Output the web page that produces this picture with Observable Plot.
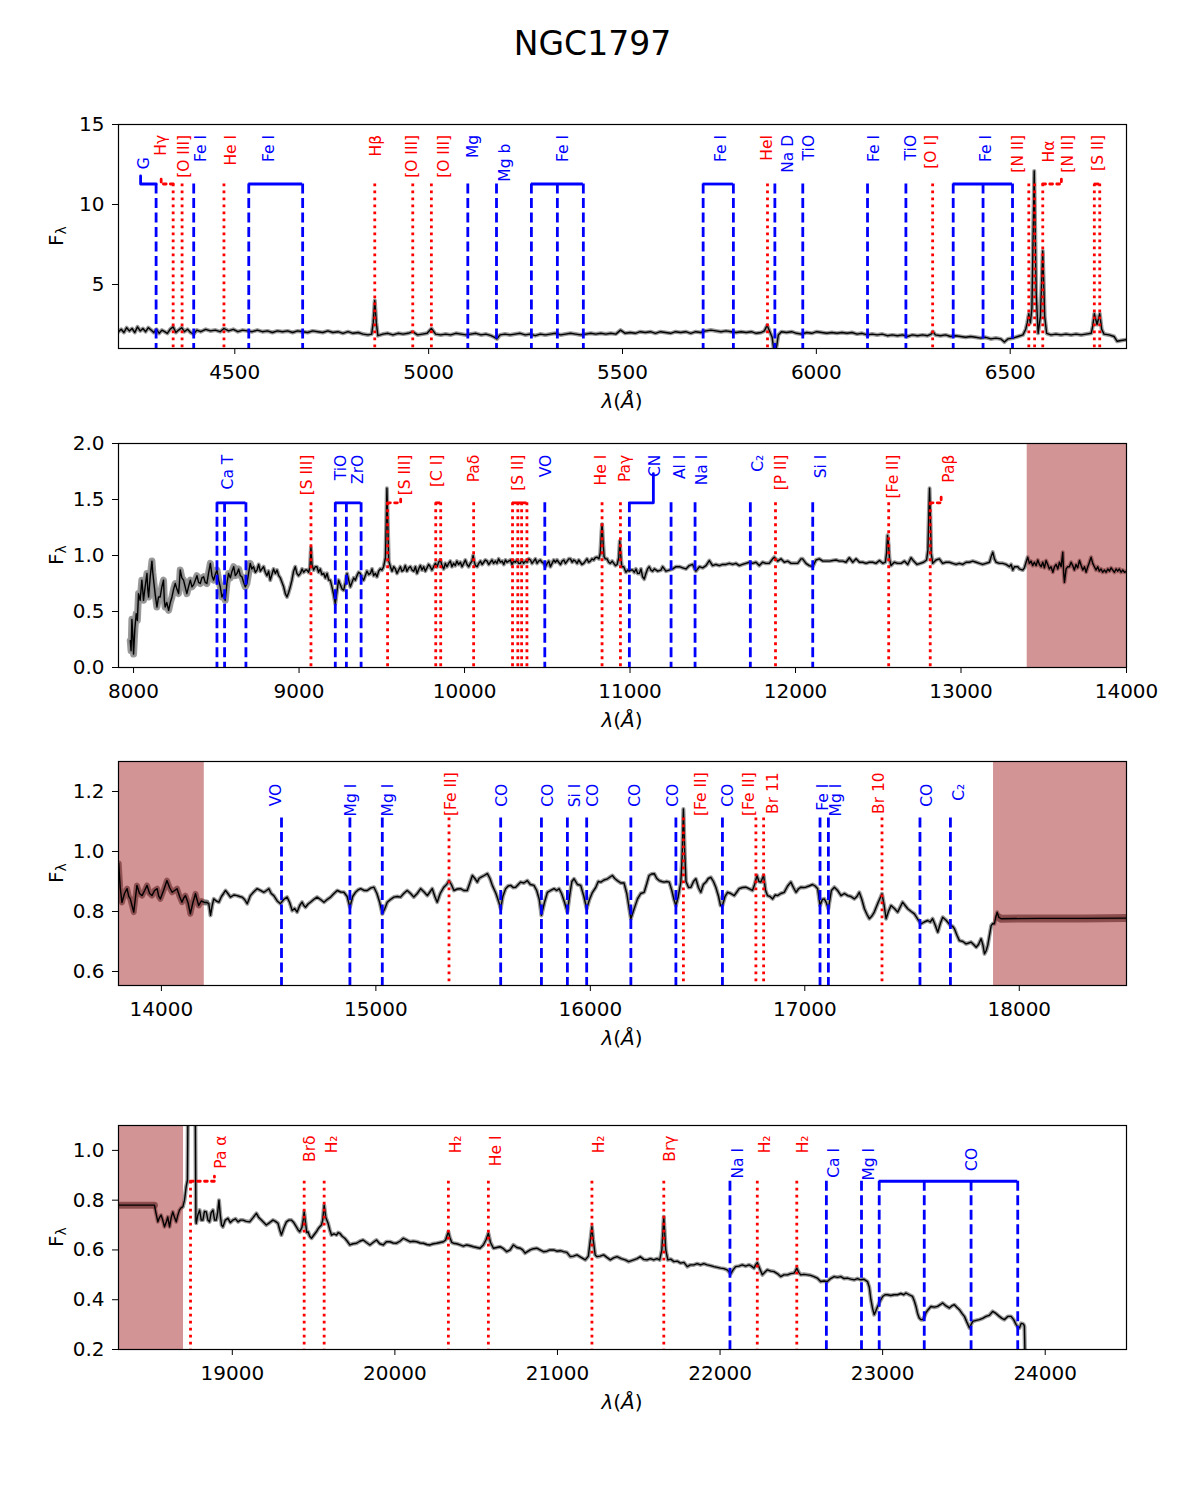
<!DOCTYPE html>
<html>
<head>
<meta charset="utf-8">
<script src="https://cdn.jsdelivr.net/npm/d3@7"></script>
<script src="https://cdn.jsdelivr.net/npm/@observablehq/plot@0.6"></script>
<style>
  body { margin: 0; background: #fff; font-family: "DejaVu Sans", sans-serif; }
  #chart { position: relative; width: 1185px; height: 1500px; background: #fff; }
  .panel { position: absolute; left: 0; }
</style>
</head>
<body>
<div id="chart"></div>
<script>
// ---------- Spectrum of NGC1797: wavelength (Å), flux ----------
const spec1 = [[4200,2.05],[4207,2.2],[4214,2.0],[4221,2.3],[4228,2.1],[4235,2.25],[4242,2.0],[4249,2.35],[4256,2.1],[4263,2.25],[4270,2.05],[4277,2.3],[4284,2.15],[4291,2.0],[4298,2.2],[4305,1.95],[4312,2.15],[4319,2.05],[4326,1.95],[4333,2.2],[4341,2.35],[4348,2.0],[4355,2.15],[4363,2.3],[4370,2.05],[4378,2.2],[4386,2.0],[4394,1.9],[4402,2.15],[4412,2.05],[4425,2.2],[4437,2.1],[4450,2.15],[4462,2.05],[4472,2.25],[4484,2.1],[4496,2.2],[4508,2.05],[4520,2.15],[4532,2.1],[4545,2.05],[4558,2.15],[4571,2.05],[4584,2.1],[4597,2.0],[4610,2.1],[4623,2.05],[4636,2.1],[4649,2.0],[4662,2.1],[4675,2.05],[4688,2.0],[4701,2.1],[4714,2.05],[4727,2.0],[4740,2.1],[4753,2.0],[4766,2.05],[4779,1.95],[4792,2.05],[4805,1.95],[4818,2.0],[4831,1.9],[4844,1.85],[4853,1.9],[4857,2.6],[4861,4.0],[4865,2.6],[4869,1.8],[4882,1.9],[4895,1.95],[4908,1.85],[4921,1.95],[4934,1.9],[4947,1.95],[4959,2.05],[4971,1.85],[4984,1.9],[4996,1.95],[5007,2.25],[5018,1.9],[5031,1.85],[5044,1.9],[5057,1.85],[5070,1.95],[5083,1.9],[5096,1.85],[5109,1.9],[5122,1.95],[5135,1.85],[5148,1.9],[5161,1.8],[5170,1.7],[5176,1.6],[5184,1.85],[5197,1.9],[5210,1.85],[5223,1.9],[5236,1.95],[5249,1.85],[5262,1.9],[5275,1.8],[5288,1.9],[5301,1.85],[5314,1.9],[5327,1.95],[5340,1.85],[5353,1.9],[5366,1.95],[5379,1.9],[5392,1.85],[5405,1.9],[5418,1.95],[5431,1.9],[5444,1.95],[5457,1.9],[5470,1.95],[5483,1.9],[5495,2.15],[5507,1.95],[5520,2.0],[5533,1.95],[5546,2.05],[5559,2.0],[5572,2.05],[5585,1.95],[5598,2.05],[5611,2.0],[5624,1.95],[5637,2.05],[5650,2.0],[5663,2.05],[5676,1.95],[5689,2.05],[5702,2.0],[5715,2.1],[5728,2.15],[5741,2.1],[5754,2.05],[5767,2.1],[5780,2.05],[5793,2.0],[5806,2.05],[5819,2.0],[5832,2.05],[5845,1.95],[5858,2.0],[5866,2.1],[5873,2.45],[5880,2.05],[5886,1.7],[5890,1.0],[5894,0.8],[5898,1.2],[5902,1.85],[5910,2.05],[5923,2.0],[5936,2.05],[5949,1.95],[5962,1.9],[5975,2.0],[5988,1.95],[6001,2.05],[6014,2.0],[6027,1.95],[6040,2.0],[6053,1.95],[6066,2.0],[6079,1.95],[6092,2.0],[6105,1.9],[6118,1.95],[6131,1.85],[6144,1.9],[6157,1.85],[6170,1.9],[6183,1.8],[6196,1.85],[6209,1.8],[6222,1.85],[6235,1.75],[6248,1.85],[6261,1.8],[6274,1.85],[6287,1.8],[6296,1.9],[6301,2.05],[6307,1.85],[6320,1.8],[6333,1.85],[6346,1.75],[6359,1.8],[6372,1.75],[6385,1.7],[6398,1.75],[6411,1.7],[6424,1.65],[6437,1.7],[6450,1.6],[6463,1.65],[6476,1.6],[6485,1.4],[6494,1.6],[6507,1.65],[6520,1.75],[6533,1.85],[6540,2.2],[6544,2.6],[6548,3.17],[6552,2.6],[6556,3.5],[6562,12.1],[6567,4.5],[6572,1.95],[6578,3.0],[6584,7.1],[6589,3.0],[6594,1.95],[6605,1.85],[6618,1.9],[6631,1.85],[6644,1.9],[6657,1.85],[6670,1.9],[6683,1.85],[6696,1.9],[6709,1.95],[6713,2.4],[6717,3.17],[6724,2.5],[6731,3.17],[6736,2.2],[6742,1.9],[6755,1.85],[6768,1.75],[6776,1.45],[6786,1.5],[6800,1.55]];

const spec2 = [[7980,0.24],[7985,0.15],[7990,0.43],[7995,0.3],[8000,0.12],[8008,0.35],[8016,0.48],[8023,0.42],[8030,0.66],[8040,0.6],[8050,0.78],[8055,0.7],[8060,0.6],[8070,0.72],[8081,0.84],[8086,0.7],[8091,0.63],[8100,0.8],[8111,0.95],[8116,0.85],[8121,0.78],[8131,0.65],[8141,0.54],[8151,0.63],[8161,0.63],[8171,0.72],[8181,0.78],[8186,0.6],[8191,0.54],[8201,0.58],[8212,0.51],[8222,0.58],[8232,0.63],[8242,0.7],[8252,0.75],[8262,0.7],[8272,0.66],[8277,0.75],[8282,0.87],[8292,0.8],[8302,0.78],[8312,0.72],[8322,0.66],[8332,0.72],[8343,0.78],[8353,0.72],[8363,0.74],[8373,0.78],[8383,0.82],[8393,0.76],[8403,0.75],[8413,0.8],[8423,0.81],[8433,0.76],[8443,0.75],[8453,0.84],[8464,0.93],[8474,0.82],[8484,0.78],[8494,0.83],[8504,0.87],[8514,0.78],[8524,0.72],[8534,0.63],[8544,0.66],[8554,0.6],[8564,0.75],[8574,0.84],[8585,0.8],[8595,0.86],[8605,0.9],[8615,0.82],[8625,0.84],[8635,0.88],[8645,0.82],[8655,0.81],[8665,0.76],[8675,0.72],[8685,0.75],[8695,0.84],[8705,0.93],[8715,0.88],[8725,0.9],[8736,0.85],[8746,0.87],[8756,0.92],[8766,0.86],[8776,0.88],[8786,0.9],[8796,0.85],[8806,0.82],[8816,0.86],[8826,0.78],[8836,0.83],[8846,0.88],[8857,0.84],[8867,0.87],[8877,0.82],[8887,0.8],[8897,0.76],[8907,0.72],[8917,0.66],[8927,0.63],[8937,0.67],[8947,0.72],[8957,0.78],[8967,0.86],[8977,0.9],[8987,0.84],[8997,0.82],[9008,0.84],[9018,0.88],[9028,0.85],[9038,0.87],[9048,0.87],[9058,0.85],[9066,0.9],[9072,1.07],[9078,0.92],[9088,0.87],[9098,0.9],[9108,0.9],[9118,0.85],[9128,0.88],[9138,0.83],[9149,0.84],[9159,0.8],[9169,0.84],[9179,0.78],[9189,0.78],[9199,0.72],[9209,0.65],[9219,0.57],[9229,0.68],[9239,0.78],[9249,0.74],[9260,0.7],[9270,0.69],[9280,0.76],[9290,0.84],[9300,0.78],[9310,0.72],[9320,0.76],[9330,0.8],[9340,0.78],[9350,0.82],[9360,0.85],[9370,0.84],[9380,0.8],[9390,0.78],[9400,0.82],[9410,0.86],[9421,0.83],[9431,0.84],[9441,0.88],[9451,0.82],[9461,0.84],[9471,0.81],[9481,0.86],[9491,0.88],[9501,0.87],[9511,0.9],[9522,0.98],[9527,1.3],[9531,1.6],[9536,1.3],[9542,0.95],[9552,0.9],[9562,0.86],[9572,0.9],[9582,0.88],[9592,0.84],[9602,0.87],[9612,0.9],[9622,0.86],[9632,0.87],[9642,0.91],[9652,0.86],[9663,0.89],[9673,0.9],[9683,0.87],[9693,0.86],[9703,0.9],[9713,0.84],[9723,0.88],[9733,0.91],[9743,0.87],[9753,0.9],[9763,0.86],[9773,0.89],[9783,0.92],[9793,0.9],[9803,0.87],[9813,0.9],[9824,0.93],[9834,0.9],[9844,0.94],[9854,0.96],[9864,0.91],[9874,0.88],[9884,0.93],[9894,0.9],[9904,0.93],[9914,0.95],[9924,0.9],[9934,0.93],[9944,0.91],[9954,0.95],[9964,0.92],[9975,0.94],[9985,0.9],[9995,0.93],[10005,0.96],[10015,0.92],[10025,0.9],[10035,0.93],[10045,0.95],[10052,1.0],[10058,0.95],[10066,0.91],[10076,0.9],[10086,0.93],[10096,0.95],[10106,0.92],[10116,0.94],[10126,0.96],[10136,0.95],[10146,0.92],[10156,0.94],[10166,0.96],[10176,0.93],[10186,0.95],[10196,0.93],[10206,0.97],[10217,0.94],[10227,0.95],[10237,0.92],[10247,0.96],[10257,0.94],[10267,0.95],[10277,0.96],[10287,0.92],[10297,0.95],[10307,0.94],[10317,0.96],[10327,0.93],[10337,0.93],[10347,0.96],[10357,0.93],[10368,0.95],[10378,0.94],[10388,0.97],[10398,0.96],[10408,0.93],[10418,0.95],[10428,0.97],[10438,0.93],[10448,0.95],[10458,0.96],[10468,0.94],[10479,0.93],[10489,0.9],[10499,0.93],[10509,0.95],[10519,0.9],[10529,0.93],[10539,0.96],[10549,0.94],[10559,0.96],[10569,0.94],[10580,0.92],[10590,0.95],[10600,0.96],[10610,0.93],[10620,0.95],[10630,0.97],[10640,0.97],[10650,0.94],[10660,0.96],[10670,0.95],[10680,0.93],[10690,0.96],[10700,0.94],[10710,0.92],[10720,0.93],[10730,0.95],[10740,0.97],[10750,0.94],[10760,0.95],[10770,0.97],[10780,0.96],[10790,0.98],[10801,0.985],[10812,0.97],[10820,1.02],[10827,1.2],[10831,1.28],[10836,1.15],[10843,0.99],[10851,0.97],[10861,0.97],[10871,0.94],[10881,0.93],[10892,0.95],[10902,0.93],[10912,0.91],[10922,0.92],[10932,0.98],[10938,1.13],[10943,1.02],[10950,0.9],[10962,0.9],[10975,0.85],[10985,0.87],[10995,0.86],[11005,0.87],[11016,0.87],[11026,0.85],[11036,0.88],[11046,0.84],[11056,0.84],[11066,0.88],[11076,0.81],[11086,0.79],[11096,0.84],[11106,0.88],[11116,0.9],[11126,0.87],[11137,0.86],[11147,0.88],[11167,0.86],[11187,0.87],[11197,0.9],[11217,0.86],[11237,0.87],[11258,0.88],[11278,0.9],[11298,0.9],[11318,0.89],[11338,0.88],[11358,0.91],[11378,0.92],[11398,0.86],[11419,0.9],[11439,0.89],[11459,0.91],[11479,0.955],[11499,0.91],[11519,0.92],[11540,0.91],[11560,0.92],[11580,0.92],[11600,0.93],[11620,0.92],[11640,0.93],[11660,0.91],[11680,0.92],[11700,0.93],[11721,0.94],[11741,0.93],[11761,0.94],[11781,0.91],[11801,0.94],[11821,0.93],[11841,0.93],[11862,0.97],[11872,0.985],[11892,0.95],[11912,0.97],[11932,0.94],[11953,0.95],[11973,0.93],[11993,0.93],[12013,0.93],[12033,0.97],[12043,0.97],[12063,0.93],[12083,0.91],[12104,0.9],[12124,0.96],[12144,0.97],[12165,0.95],[12185,0.95],[12205,0.95],[12225,0.955],[12245,0.96],[12265,0.95],[12285,0.95],[12305,0.94],[12325,0.98],[12346,0.94],[12366,0.97],[12386,0.94],[12406,0.94],[12426,0.93],[12446,0.94],[12466,0.94],[12486,0.93],[12507,0.955],[12527,0.93],[12543,0.94],[12550,1.02],[12556,1.18],[12562,1.1],[12568,0.97],[12577,0.91],[12597,0.94],[12617,0.93],[12638,0.93],[12658,0.95],[12678,0.92],[12698,0.98],[12714,0.95],[12734,0.92],[12754,0.93],[12774,0.94],[12792,0.96],[12800,1.05],[12806,1.4],[12810,1.6],[12814,1.4],[12820,1.02],[12829,0.93],[12849,0.96],[12869,0.97],[12889,0.93],[12909,0.94],[12929,0.94],[12950,0.93],[12970,0.92],[12990,0.93],[13010,0.92],[13031,0.94],[13051,0.94],[13071,0.95],[13091,0.94],[13111,0.93],[13131,0.92],[13151,0.93],[13172,0.94],[13182,0.99],[13192,1.03],[13202,0.97],[13212,0.94],[13232,0.93],[13252,0.93],[13272,0.92],[13293,0.9],[13303,0.92],[13313,0.87],[13323,0.9],[13343,0.9],[13353,0.88],[13373,0.87],[13383,0.89],[13393,0.94],[13403,0.985],[13413,0.93],[13423,0.95],[13433,0.91],[13443,0.94],[13454,0.91],[13464,0.96],[13474,0.92],[13484,0.9],[13494,0.94],[13504,0.89],[13514,0.955],[13524,0.92],[13534,0.88],[13544,0.9],[13555,0.85],[13565,0.9],[13575,0.92],[13585,0.88],[13595,0.94],[13605,0.9],[13615,1.03],[13620,0.85],[13625,0.76],[13635,0.88],[13645,0.9],[13655,0.9],[13665,0.94],[13675,0.91],[13685,0.87],[13695,0.92],[13705,0.89],[13716,0.955],[13726,0.91],[13736,0.87],[13746,0.9],[13756,0.85],[13766,0.9],[13776,0.94],[13786,0.985],[13796,0.93],[13806,0.9],[13816,0.87],[13826,0.9],[13836,0.86],[13846,0.88],[13856,0.85],[13866,0.87],[13877,0.85],[13887,0.88],[13897,0.86],[13907,0.89],[13917,0.87],[13927,0.85],[13937,0.88],[13947,0.86],[13957,0.88],[13967,0.85],[13977,0.87],[13988,0.85],[14000,0.86]];

const spec3 = [[13801,0.96],[13808,0.88],[13816,0.83],[13828,0.86],[13840,0.876],[13848,0.85],[13855,0.842],[13863,0.82],[13871,0.798],[13878,0.84],[13886,0.887],[13898,0.86],[13910,0.853],[13922,0.87],[13933,0.887],[13945,0.86],[13956,0.853],[13968,0.87],[13980,0.876],[13988,0.85],[13995,0.842],[14010,0.87],[14026,0.903],[14038,0.88],[14050,0.864],[14062,0.87],[14073,0.876],[14085,0.85],[14096,0.831],[14104,0.845],[14112,0.853],[14124,0.83],[14135,0.792],[14147,0.83],[14159,0.859],[14166,0.84],[14174,0.82],[14186,0.835],[14198,0.831],[14210,0.83],[14221,0.826],[14229,0.787],[14237,0.82],[14244,0.842],[14256,0.835],[14268,0.831],[14280,0.85],[14290,0.86],[14299,0.87],[14310,0.86],[14322,0.848],[14338,0.855],[14353,0.853],[14365,0.85],[14376,0.848],[14388,0.84],[14400,0.826],[14408,0.84],[14415,0.853],[14430,0.865],[14446,0.876],[14462,0.87],[14478,0.864],[14490,0.87],[14501,0.876],[14512,0.86],[14524,0.853],[14540,0.835],[14555,0.826],[14570,0.84],[14586,0.848],[14598,0.83],[14610,0.803],[14621,0.81],[14633,0.798],[14645,0.82],[14656,0.831],[14664,0.82],[14672,0.814],[14684,0.825],[14695,0.831],[14710,0.84],[14726,0.848],[14742,0.84],[14758,0.831],[14773,0.84],[14789,0.848],[14805,0.86],[14820,0.87],[14836,0.865],[14851,0.864],[14866,0.85],[14879,0.814],[14892,0.85],[14905,0.864],[14917,0.872],[14929,0.876],[14945,0.87],[14960,0.87],[14975,0.878],[14991,0.881],[15005,0.86],[15018,0.83],[15030,0.792],[15042,0.81],[15053,0.831],[15068,0.84],[15084,0.848],[15100,0.85],[15115,0.848],[15130,0.86],[15146,0.87],[15162,0.86],[15177,0.848],[15193,0.86],[15209,0.876],[15225,0.865],[15240,0.853],[15252,0.865],[15263,0.876],[15275,0.85],[15286,0.831],[15300,0.86],[15317,0.881],[15330,0.89],[15341,0.903],[15352,0.89],[15364,0.87],[15380,0.875],[15395,0.876],[15410,0.87],[15426,0.87],[15438,0.895],[15450,0.92],[15462,0.91],[15473,0.898],[15481,0.91],[15489,0.914],[15505,0.92],[15520,0.926],[15532,0.91],[15543,0.887],[15560,0.86],[15574,0.83],[15582,0.809],[15592,0.85],[15605,0.876],[15617,0.885],[15629,0.887],[15640,0.88],[15652,0.881],[15664,0.89],[15675,0.898],[15690,0.895],[15706,0.903],[15720,0.89],[15737,0.887],[15750,0.87],[15762,0.84],[15772,0.787],[15786,0.83],[15800,0.864],[15815,0.87],[15831,0.876],[15843,0.87],[15854,0.876],[15866,0.86],[15880,0.83],[15893,0.798],[15905,0.86],[15914,0.9],[15924,0.909],[15940,0.89],[15955,0.887],[15970,0.85],[15983,0.809],[15996,0.84],[16010,0.864],[16025,0.88],[16037,0.9],[16049,0.898],[16064,0.905],[16080,0.909],[16092,0.915],[16103,0.92],[16114,0.91],[16126,0.903],[16142,0.895],[16157,0.895],[16170,0.86],[16181,0.81],[16189,0.776],[16200,0.8],[16220,0.842],[16235,0.86],[16251,0.864],[16262,0.89],[16274,0.92],[16286,0.925],[16298,0.926],[16310,0.91],[16321,0.903],[16333,0.9],[16344,0.898],[16356,0.9],[16368,0.898],[16380,0.87],[16390,0.84],[16399,0.82],[16410,0.85],[16422,0.898],[16428,0.98],[16434,1.142],[16440,1.0],[16446,0.9],[16458,0.88],[16469,0.881],[16481,0.9],[16492,0.909],[16504,0.88],[16515,0.864],[16527,0.89],[16539,0.898],[16550,0.91],[16562,0.914],[16574,0.9],[16585,0.881],[16598,0.85],[16607,0.82],[16616,0.82],[16628,0.85],[16640,0.864],[16655,0.86],[16671,0.853],[16683,0.865],[16694,0.876],[16710,0.88],[16725,0.881],[16740,0.876],[16756,0.87],[16766,0.89],[16777,0.92],[16786,0.9],[16795,0.898],[16802,0.91],[16808,0.92],[16817,0.87],[16826,0.853],[16838,0.85],[16850,0.842],[16862,0.855],[16873,0.853],[16888,0.86],[16904,0.864],[16920,0.885],[16935,0.898],[16947,0.88],[16959,0.864],[16970,0.875],[16982,0.881],[16994,0.88],[17005,0.881],[17020,0.885],[17036,0.89],[17048,0.885],[17060,0.876],[17071,0.82],[17082,0.84],[17091,0.842],[17100,0.83],[17110,0.809],[17124,0.87],[17138,0.881],[17153,0.87],[17169,0.853],[17185,0.86],[17200,0.853],[17215,0.85],[17231,0.842],[17243,0.85],[17254,0.864],[17266,0.84],[17278,0.809],[17290,0.79],[17301,0.776],[17313,0.785],[17324,0.798],[17342,0.83],[17360,0.859],[17370,0.82],[17379,0.776],[17390,0.8],[17402,0.82],[17418,0.81],[17433,0.798],[17445,0.815],[17456,0.831],[17468,0.82],[17480,0.809],[17496,0.8],[17511,0.792],[17526,0.775],[17542,0.759],[17557,0.765],[17573,0.77],[17585,0.765],[17596,0.776],[17608,0.755],[17620,0.731],[17632,0.76],[17643,0.781],[17660,0.77],[17679,0.753],[17690,0.75],[17698,0.742],[17710,0.72],[17721,0.703],[17737,0.7],[17752,0.692],[17764,0.695],[17775,0.698],[17787,0.69],[17799,0.681],[17810,0.69],[17822,0.709],[17830,0.69],[17838,0.659],[17846,0.67],[17853,0.687],[17861,0.72],[17869,0.753],[17877,0.76],[17884,0.759],[17890,0.78],[17897,0.798],[17905,0.78],[17915,0.776],[18100,0.777],[18300,0.777],[18500,0.778]];

const spec4 = [[18295,0.78],[18521,0.78],[18530,0.75],[18542,0.713],[18552,0.73],[18562,0.74],[18572,0.72],[18583,0.693],[18593,0.71],[18603,0.733],[18609,0.71],[18614,0.693],[18624,0.73],[18634,0.753],[18645,0.73],[18655,0.713],[18665,0.74],[18675,0.76],[18686,0.77],[18696,0.773],[18706,0.8],[18716,0.853],[18724,0.88],[18730,1.4],[18736,1.6],[18766,1.6],[18772,1.2],[18776,0.72],[18778,0.707],[18788,0.74],[18799,0.76],[18809,0.72],[18819,0.72],[18829,0.755],[18840,0.753],[18850,0.72],[18860,0.713],[18870,0.75],[18881,0.76],[18891,0.72],[18901,0.72],[18910,0.75],[18918,0.8],[18926,0.74],[18934,0.7],[18942,0.693],[18957,0.72],[18973,0.727],[18988,0.71],[19004,0.72],[19020,0.725],[19035,0.713],[19050,0.72],[19066,0.72],[19086,0.715],[19107,0.713],[19128,0.73],[19148,0.747],[19163,0.73],[19179,0.72],[19194,0.71],[19209,0.7],[19230,0.71],[19250,0.72],[19265,0.715],[19281,0.707],[19292,0.68],[19302,0.66],[19318,0.69],[19333,0.713],[19348,0.72],[19363,0.72],[19378,0.71],[19394,0.693],[19405,0.68],[19415,0.673],[19428,0.69],[19436,0.72],[19442,0.753],[19450,0.71],[19458,0.67],[19466,0.673],[19476,0.655],[19487,0.647],[19502,0.66],[19517,0.673],[19528,0.685],[19538,0.693],[19548,0.7],[19556,0.72],[19565,0.78],[19575,0.73],[19589,0.707],[19600,0.68],[19610,0.66],[19625,0.665],[19641,0.66],[19651,0.67],[19661,0.667],[19676,0.655],[19692,0.647],[19707,0.635],[19723,0.62],[19743,0.625],[19764,0.627],[19784,0.635],[19805,0.64],[19825,0.63],[19846,0.62],[19866,0.63],[19887,0.64],[19907,0.625],[19928,0.62],[19948,0.633],[19969,0.633],[19989,0.628],[20010,0.627],[20031,0.635],[20052,0.647],[20072,0.64],[20093,0.633],[20113,0.635],[20134,0.633],[20155,0.628],[20175,0.627],[20196,0.622],[20216,0.62],[20237,0.625],[20257,0.627],[20278,0.63],[20298,0.633],[20312,0.64],[20322,0.66],[20329,0.673],[20338,0.65],[20350,0.63],[20360,0.627],[20380,0.625],[20401,0.62],[20421,0.615],[20442,0.62],[20462,0.617],[20483,0.613],[20503,0.61],[20524,0.607],[20544,0.62],[20560,0.64],[20575,0.667],[20588,0.63],[20606,0.607],[20627,0.61],[20647,0.613],[20668,0.605],[20688,0.593],[20709,0.6],[20729,0.62],[20750,0.61],[20770,0.607],[20786,0.6],[20801,0.587],[20817,0.594],[20832,0.6],[20852,0.605],[20873,0.607],[20893,0.6],[20914,0.593],[20935,0.595],[20955,0.6],[20976,0.6],[20996,0.595],[21017,0.597],[21037,0.593],[21058,0.59],[21079,0.573],[21099,0.575],[21120,0.58],[21145,0.57],[21171,0.56],[21190,0.575],[21204,0.65],[21212,0.693],[21220,0.64],[21232,0.58],[21243,0.573],[21263,0.575],[21284,0.58],[21304,0.57],[21325,0.56],[21345,0.568],[21366,0.573],[21392,0.565],[21417,0.56],[21438,0.553],[21469,0.56],[21490,0.565],[21510,0.573],[21530,0.562],[21551,0.56],[21572,0.565],[21592,0.56],[21612,0.565],[21629,0.56],[21642,0.6],[21654,0.733],[21666,0.6],[21679,0.56],[21697,0.563],[21716,0.553],[21737,0.555],[21757,0.547],[21778,0.55],[21798,0.533],[21818,0.54],[21839,0.54],[21859,0.545],[21880,0.54],[21900,0.545],[21921,0.54],[21941,0.537],[21962,0.533],[21983,0.53],[22003,0.527],[22024,0.525],[22044,0.52],[22058,0.51],[22065,0.504],[22080,0.52],[22096,0.533],[22116,0.535],[22137,0.54],[22157,0.535],[22178,0.54],[22193,0.535],[22209,0.527],[22219,0.54],[22229,0.549],[22244,0.525],[22260,0.5],[22275,0.51],[22291,0.52],[22312,0.515],[22332,0.513],[22352,0.505],[22373,0.493],[22393,0.5],[22414,0.5],[22434,0.505],[22455,0.507],[22463,0.515],[22472,0.527],[22484,0.51],[22496,0.5],[22516,0.502],[22537,0.5],[22557,0.498],[22578,0.493],[22598,0.487],[22619,0.473],[22640,0.475],[22660,0.473],[22680,0.485],[22702,0.493],[22722,0.49],[22743,0.493],[22763,0.485],[22784,0.487],[22804,0.483],[22825,0.48],[22845,0.485],[22866,0.48],[22886,0.482],[22907,0.473],[22918,0.45],[22928,0.4],[22938,0.365],[22948,0.34],[22958,0.355],[22969,0.373],[22985,0.395],[23000,0.413],[23015,0.42],[23030,0.42],[23050,0.417],[23070,0.42],[23092,0.42],[23112,0.425],[23130,0.42],[23143,0.427],[23163,0.42],[23184,0.413],[23195,0.395],[23205,0.373],[23215,0.345],[23225,0.327],[23236,0.32],[23246,0.32],[23256,0.33],[23266,0.347],[23280,0.36],[23297,0.373],[23318,0.37],[23338,0.373],[23354,0.38],[23369,0.387],[23390,0.375],[23410,0.367],[23425,0.375],[23441,0.38],[23456,0.37],[23472,0.36],[23488,0.345],[23503,0.333],[23518,0.31],[23534,0.287],[23544,0.3],[23554,0.313],[23575,0.317],[23595,0.32],[23615,0.325],[23636,0.333],[23656,0.337],[23677,0.353],[23697,0.345],[23718,0.333],[23734,0.325],[23749,0.32],[23770,0.333],[23790,0.333],[23806,0.32],[23821,0.3],[23832,0.29],[23842,0.287],[23852,0.305],[23862,0.304],[23868,0.3],[23872,0.293],[23875,0.2],[23878,0.1]];

// ---------- Line identifications: [label, rest wavelengths (Å), type, label wavelength, extras] ----------
// type "abs" = absorption feature (blue dashed), "em" = emission line (red dotted)
const lines1 = [
  ["G",[4297],"abs",4264,{top:12.95,conn:4257,rise:0.5}],
  ["Hγ",[4341],"em",4310,{conn:4310,rise:0.55}],
  ["[O III]",[4364],"em",4368],
  ["Fe I",[4394],"abs",4411],
  ["He I",[4472],"em",4489],
  ["Fe I",[4536,4675],"abs",4588],
  ["Hβ",[4861],"em",4863],
  ["[O III]",[4959],"em",4958],
  ["[O III]",[5007],"em",5039],
  ["Mg",[5101],"abs",5115],
  ["Mg b",[5175],"abs",5196,{top:13.8}],
  ["Fe I",[5265,5332,5399],"abs",5345],
  ["Fe I",[5708,5786],"abs",5753],
  ["HeI",[5874],"em",5874],
  ["Na D",[5893],"abs",5927],
  ["TiO",[5965],"abs",5981],
  ["Fe I",[6132],"abs",6149],
  ["TiO",[6231],"abs",6244],
  ["[O I]",[6300],"em",6297],
  ["Fe I",[6353,6430,6506],"abs",6437],
  ["[N II]",[6548],"em",6519],
  ["Hα",[6563],"em",6601,{top:14.0}],
  ["[N II]",[6584],"em",6650,{conn:6632,rise:0.3}],
  ["[S II]",[6717,6731],"em",6727]
];
const lines2 = [
  ["Ca T",[8504,8550,8679],"abs",8568],
  ["[S III]",[9072],"em",9048],
  ["TiO\nZrO",[9219,9286,9375],"abs",9304],
  ["[S III]",[9535],"em",9643,{conn:9614,rise:0.05}],
  ["[C I]",[9826,9856],"em",9834],
  ["Paδ",[10055],"em",10056],
  ["[S II]",[10290,10322,10345,10377],"em",10322],
  ["VO",[10485],"abs",10489],
  ["He I",[10831],"em",10822],
  ["Paγ",[10942],"em",10972],
  ["CN",[10996],"abs",11147,{conn:11141,rise:0.26}],
  ["Al I",[11248],"abs",11298],
  ["Na I",[11393],"abs",11435],
  ["C₂",[11727],"abs",11772],
  ["[P II]",[11879],"em",11913],
  ["Si I",[12104],"abs",12155],
  ["[Fe II]",[12563],"em",12588],
  ["Paβ",[12814],"em",12926,{conn:12880,rise:0.05}]
];
const lines3 = [
  ["VO",[14560],"abs",14535],
  ["Mg I",[14879],"abs",14885],
  ["Mg I",[15030],"abs",15056],
  ["[Fe II]",[15341],"em",15349],
  ["CO",[15582],"abs",15585],
  ["CO",[15772],"abs",15803],
  ["Si I",[15893],"abs",15927],
  ["CO",[15983],"abs",16013],
  ["CO",[16189],"abs",16207],
  ["CO",[16399],"abs",16386],
  ["[Fe II]",[16434],"em",16515],
  ["CO",[16616],"abs",16643],
  ["[Fe II]",[16772],"em",16741],
  ["Br 11",[16808],"em",16853],
  ["Fe I",[17071],"abs",17083],
  ["Mg I",[17110],"abs",17145],
  ["Br 10",[17360],"em",17347],
  ["CO",[17537],"abs",17568],
  ["C₂",[17679],"abs",17716]
];
const lines4 = [
  ["Pa α",[18743],"em",18932,{conn:18890,rise:0.02}],
  ["Brδ",[19442],"em",19480],
  ["H₂",[19565],"em",19614],
  ["H₂",[20329],"em",20374],
  ["He I",[20575],"em",20620],
  ["H₂",[21212],"em",21257],
  ["Brγ",[21654],"em",21695],
  ["Na I",[22061],"abs",22106],
  ["H₂",[22229],"em",22274],
  ["H₂",[22472],"em",22511],
  ["Ca I",[22654],"abs",22702],
  ["Mg I",[22870],"abs",22917],
  ["CO",[22979,23256,23544,23831],"abs",23548]
];

// Masked (telluric) wavelength ranges
const mask2 = [[13400,14000]];
const mask3 = [[13800,14200],[17880,18500]];
const mask4 = [[18300,18700]];

// Axis ticks
const xt1 = [4500,5000,5500,6000,6500], yt1 = [5,10,15];
const xt2 = [8000,9000,10000,11000,12000,13000,14000], yt2 = [0,0.5,1,1.5,2];
const xt3 = [14000,15000,16000,17000,18000], yt3 = [0.6,0.8,1.0,1.2];
const xt4 = [19000,20000,21000,22000,23000,24000], yt4 = [0.2,0.4,0.6,0.8,1.0];

// ---------- layout ----------
const W = 1185, ML = 118, MR = 59, FH = 224, MT = 20, MB = 70;
const BLUE = "#0000ff", RED = "#ff0000";
const panels = [
  {spec: spec1, lines: lines1, masks: [], x: [4200,6800], y: [1,15], xt: xt1, yt: yt1, yf: d3.format("d"),
   frameTop: 124, top: 11.28, labAbs: 14.35, labEm: 14.35, bands: []},
  {spec: spec2, lines: lines2, masks: mask2, x: [7909,14000], y: [0,2], xt: xt2, yt: yt2, yf: d3.format(".1f"),
   frameTop: 443, top: 1.47, labAbs: 1.9, labEm: 1.9, bands: [[7900,8720,7,"#8a8a8a"]]},
  {spec: spec3, lines: lines3, masks: mask3, x: [13800,18500], y: [0.5533,1.3], xt: xt3, yt: yt3, yf: d3.format(".1f"),
   frameTop: 761, top: 1.112, labAbs: 1.226, labEm: 1.264, bands: [[13800,14210,6,"#6a6a6a"],[17900,18500,8,"#5a5a5a"]]},
  {spec: spec4, lines: lines4, masks: mask4, x: [18300,24500], y: [0.2,1.1], xt: xt4, yt: yt4, yf: d3.format(".1f"),
   frameTop: 1125, top: 0.876, labAbs: 1.01, labEm: 1.06, bands: [[18290,18525,7,"#5a5a5a"]]}
];

const chart = document.getElementById("chart");

// Title
const title = d3.create("svg").attr("width", W).attr("height", 80)
  .style("position", "absolute").style("left", "0px").style("top", "0px");
title.append("text").attr("x", 592.5).attr("y", 55).attr("text-anchor", "middle")
  .attr("font-family", "DejaVu Sans, sans-serif").attr("font-size", 33).attr("fill", "black").text("NGC1797");
chart.appendChild(title.node());

function drawPanel(cfg) {
  const [ymin, ymax] = cfg.y;
  const feats = cfg.lines.map(([name, waves, kind, at, opt = {}], i) => ({name, waves, kind, at, i, ...opt}));
  const rules = feats.flatMap(f => f.waves.map(w => ({w, kind: f.kind, y1: cfg.top, y2: ymin})));
  const groups = feats.filter(f => f.waves.length > 1)
    .map(f => ({kind: f.kind, x1: d3.min(f.waves), x2: d3.max(f.waves), y: cfg.top}));
  const labels = feats.map(f => ({name: f.name, at: f.at, kind: f.kind,
    top: f.top ?? (f.kind === "abs" ? cfg.labAbs : cfg.labEm)}));
  const conns = feats.filter(f => f.conn != null).flatMap(f => [
    {id: f.i, kind: f.kind, x: f.waves[0], y: cfg.top},
    {id: f.i, kind: f.kind, x: f.conn, y: cfg.top},
    {id: f.i, kind: f.kind, x: f.conn, y: cfg.top + f.rise}
  ]);
  const spec = cfg.spec.map(([w, f]) => ({w, f}));
  const masks = cfg.masks.map(([a, b]) => ({a, b, lo: ymin, hi: ymax}));
  const isAbs = d => d.kind === "abs", isEm = d => d.kind === "em";

  const marks = [
    // uncertainty envelope under the spectrum
    Plot.line(spec, {x: "w", y: "f", stroke: "#808080", strokeWidth: 4, strokeOpacity: 0.8, clip: true}),
    ...cfg.bands.map(([a, b, sw, col]) => Plot.line(spec.filter(d => d.w >= a && d.w <= b),
      {x: "w", y: "f", stroke: col, strokeWidth: sw, strokeOpacity: 0.85, clip: true})),
    Plot.rect(masks, {x1: "a", x2: "b", y1: "lo", y2: "hi", fill: "brown", fillOpacity: 0.5}),
    Plot.line(spec, {x: "w", y: "f", stroke: "black", strokeWidth: 1.4, clip: true}),
    // line markers
    Plot.ruleX(rules.filter(isAbs), {x: "w", y1: "y1", y2: "y2", stroke: BLUE, strokeWidth: 2.8, strokeDasharray: "10,4.5"}),
    Plot.ruleX(rules.filter(isEm), {x: "w", y1: "y1", y2: "y2", stroke: RED, strokeWidth: 2.8, strokeDasharray: "2.8,4.2"}),
    Plot.ruleY(groups.filter(isAbs), {y: "y", x1: "x1", x2: "x2", stroke: BLUE, strokeWidth: 2.8}),
    Plot.ruleY(groups.filter(isEm), {y: "y", x1: "x1", x2: "x2", stroke: RED, strokeWidth: 2.8}),
    Plot.line(conns.filter(isAbs), {x: "x", y: "y", z: "id", stroke: BLUE, strokeWidth: 2.8}),
    Plot.line(conns.filter(isEm), {x: "x", y: "y", z: "id", stroke: RED, strokeWidth: 2.8, strokeDasharray: "2.8,4.2"}),
    Plot.text(labels.filter(isAbs), {x: "at", y: "top", text: "name", rotate: -90, textAnchor: "end",
      lineAnchor: "middle", fill: BLUE, fontSize: 15.5, lineHeight: 1.05}),
    Plot.text(labels.filter(isEm), {x: "at", y: "top", text: "name", rotate: -90, textAnchor: "end",
      lineAnchor: "middle", fill: RED, fontSize: 15.5}),
    Plot.frame({stroke: "black", strokeWidth: 1.2})
  ];

  const svg = Plot.plot({
    width: W, height: FH + MT + MB,
    marginLeft: ML, marginRight: MR, marginTop: MT, marginBottom: MB,
    style: {fontFamily: "DejaVu Sans, sans-serif", fontSize: "20px", color: "black", background: "white", overflow: "visible"},
    x: {domain: cfg.x, ticks: cfg.xt, tickFormat: d3.format("d"), tickSize: 6, tickPadding: 10, label: null},
    y: {domain: cfg.y, ticks: cfg.yt, tickFormat: cfg.yf, tickSize: 6, tickPadding: 8, label: null},
    marks
  });

  const s = d3.select(svg);
  // y-axis title F_λ
  const yl = s.append("text")
    .attr("transform", `translate(63,${MT + FH / 2}) rotate(-90)`)
    .attr("text-anchor", "middle").attr("font-family", "DejaVu Sans, sans-serif")
    .attr("font-size", 20).attr("fill", "black");
  yl.append("tspan").text("F");
  yl.append("tspan").attr("font-size", 14).attr("dy", 3).text("λ");
  // x-axis title λ(Å)
  const xl = s.append("text")
    .attr("x", ML + (W - ML - MR) / 2).attr("y", MT + FH + 60)
    .attr("text-anchor", "middle").attr("font-family", "DejaVu Sans, sans-serif")
    .attr("font-size", 20).attr("fill", "black");
  xl.append("tspan").attr("font-style", "italic").text("λ");
  xl.append("tspan").text("(");
  xl.append("tspan").attr("font-style", "italic").text("Å");
  xl.append("tspan").text(")");

  const wrap = document.createElement("div");
  wrap.className = "panel";
  wrap.style.top = (cfg.frameTop - MT) + "px";
  wrap.appendChild(svg);
  chart.appendChild(wrap);
}

panels.forEach(drawPanel);
</script>
</body>
</html>
